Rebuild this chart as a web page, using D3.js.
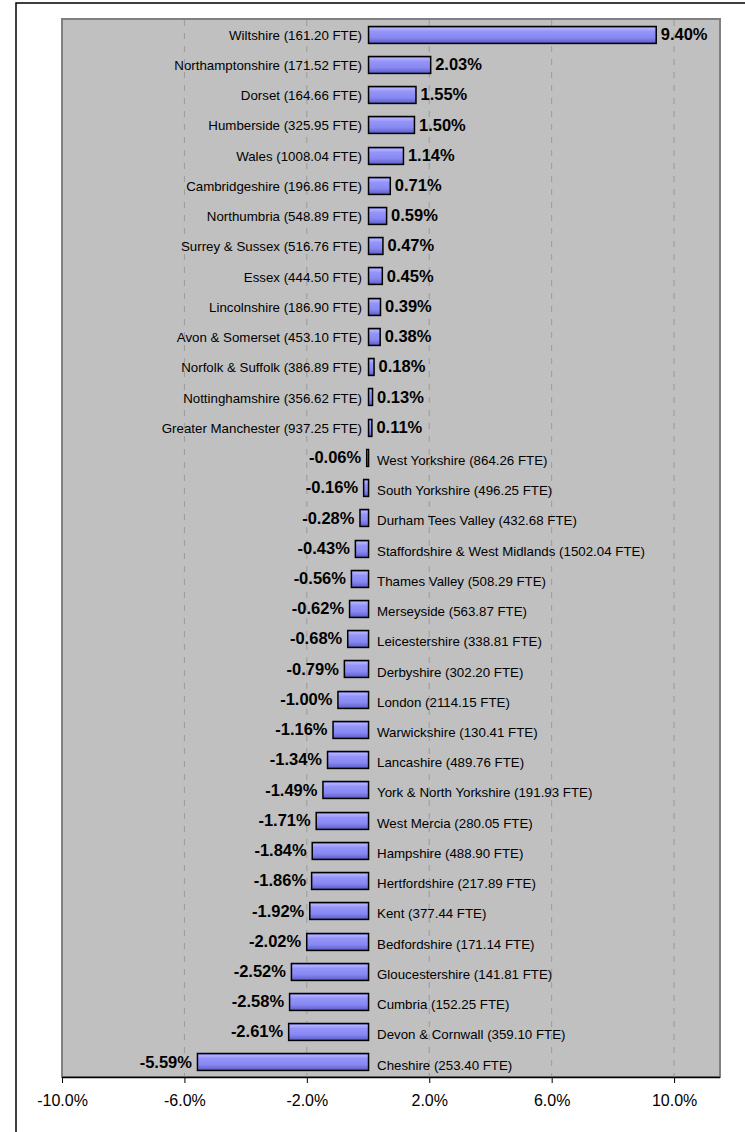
<!DOCTYPE html>
<html>
<head>
<meta charset="utf-8">
<script src="https://cdnjs.cloudflare.com/ajax/libs/d3/7.8.5/d3.min.js"></script>
<style>
html,body{margin:0;padding:0;background:#fff;}
svg{display:block;font-family:Arial,"Liberation Sans",sans-serif;}
</style>
</head>
<body>
<svg id="chart" width="745" height="1132"></svg>
<script>
const names = ["Wiltshire","Northamptonshire","Dorset","Humberside","Wales","Cambridgeshire","Northumbria","Surrey & Sussex","Essex","Lincolnshire","Avon & Somerset","Norfolk & Suffolk","Nottinghamshire","Greater Manchester","West Yorkshire","South Yorkshire","Durham Tees Valley","Staffordshire & West Midlands","Thames Valley","Merseyside","Leicestershire","Derbyshire","London","Warwickshire","Lancashire","York & North Yorkshire","West Mercia","Hampshire","Hertfordshire","Kent","Bedfordshire","Gloucestershire","Cumbria","Devon & Cornwall","Cheshire"];
const fte = ["161.20","171.52","164.66","325.95","1008.04","196.86","548.89","516.76","444.50","186.90","453.10","386.89","356.62","937.25","864.26","496.25","432.68","1502.04","508.29","563.87","338.81","302.20","2114.15","130.41","489.76","191.93","280.05","488.90","217.89","377.44","171.14","141.81","152.25","359.10","253.40"];
const values = [9.40,2.03,1.55,1.50,1.14,0.71,0.59,0.47,0.45,0.39,0.38,0.18,0.13,0.11,-0.06,-0.16,-0.28,-0.43,-0.56,-0.62,-0.68,-0.79,-1.00,-1.16,-1.34,-1.49,-1.71,-1.84,-1.86,-1.92,-2.02,-2.52,-2.58,-2.61,-5.59];
const tickValues = [-10,-6,-2,2,6,10];
const xDomain = [-10, 11.5];

const data = names.map((n,i)=>({name:n, label:`${n} (${fte[i]} FTE)`, value:values[i]}));

const svg = d3.select("#chart");
const pLeft=62, pRight=720, pTop=19, pBottom=1077;

// outer frame
svg.append("rect").attr("x",16).attr("y",3).attr("width",760).attr("height",1160)
  .attr("fill","#fff").attr("stroke","#000").attr("stroke-width",1.5);

const x = d3.scaleLinear().domain(xDomain).range([pLeft,pRight]);
const y = d3.scaleBand().domain(names).range([pTop,pBottom]).paddingInner(0.44).paddingOuter(0.22);

// plot area
svg.append("rect").attr("x",pLeft).attr("y",pTop).attr("width",pRight-pLeft).attr("height",pBottom-pTop)
  .attr("fill","#c0c0c0").attr("stroke","#808080").attr("stroke-width",2);

// gradient
const defs = svg.append("defs");
const g = defs.append("linearGradient").attr("id","barGrad").attr("x1",0).attr("y1",0).attr("x2",0).attr("y2",1);
[[0,"#6a6ad8"],[0.12,"#b0b0ff"],[0.3,"#9494f8"],[0.65,"#8888f2"],[0.85,"#7070dc"],[1,"#5858bc"]]
  .forEach(([o,c])=>g.append("stop").attr("offset",o).attr("stop-color",c));

// gridlines
svg.append("g").selectAll("line").data(tickValues.filter(d=>d!==-10)).join("line")
  .attr("x1",d=>x(d)).attr("x2",d=>x(d)).attr("y1",pTop+1).attr("y2",pBottom)
  .attr("stroke","#9a9a9a").attr("stroke-width",1).attr("stroke-dasharray","6,7");

// bars
svg.append("g").selectAll("rect").data(data).join("rect")
  .attr("x",d=>x(Math.min(0,d.value))+0.5)
  .attr("y",d=>Math.round(y(d.name))+0.5)
  .attr("width",d=>Math.max(1,Math.abs(x(d.value)-x(0))))
  .attr("height",y.bandwidth())
  .attr("fill","url(#barGrad)").attr("stroke","#000").attr("stroke-width",1.5);

// category labels
svg.append("g").selectAll("text").data(data).join("text")
  .attr("x",d=>d.value>=0 ? x(0)-6 : x(0)+9)
  .attr("y",d=>y(d.name)+y.bandwidth()/2 + (d.value>=0?1:3))
  .attr("dy","0.35em")
  .attr("text-anchor",d=>d.value>=0?"end":"start")
  .attr("font-size","13.3px").attr("fill","#000")
  .text(d=>d.label);

// value labels
svg.append("g").selectAll("text").data(data).join("text")
  .attr("x",d=>d.value>=0 ? x(d.value)+5 : x(d.value)-5)
  .attr("y",d=>y(d.name)+y.bandwidth()/2)
  .attr("dy","0.35em")
  .attr("text-anchor",d=>d.value>=0?"start":"end")
  .attr("font-size","16.5px").attr("font-weight","bold").attr("fill","#000")
  .text(d=>d.value.toFixed(2)+"%");

// axis
const axis = d3.axisBottom(x).tickValues(tickValues).tickSize(6).tickPadding(12)
  .tickFormat(d=>d.toFixed(1)+"%");
const ax = svg.append("g").attr("transform",`translate(0,${pBottom})`).call(axis);
ax.select(".domain").attr("d",`M${pLeft},0.5H${pRight}`).attr("stroke","#000").attr("stroke-width",1.5);
ax.selectAll(".tick line").attr("stroke","#000");
ax.selectAll(".tick text").attr("font-size","16px").attr("font-family","Arial, 'Liberation Sans', sans-serif").attr("fill","#000");
</script>
</body>
</html>
